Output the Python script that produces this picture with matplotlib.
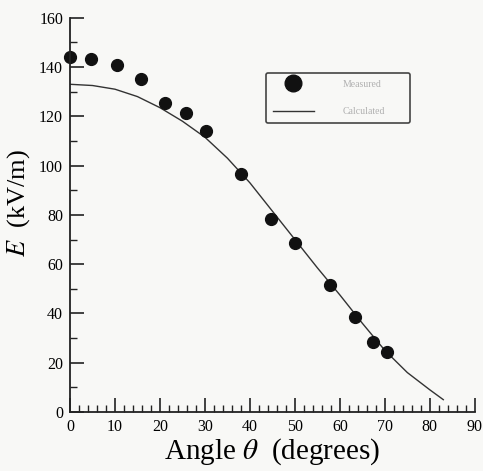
import numpy as np
from matplotlib import pyplot as plt
from matplotlib.lines import Line2D

# measured field (dots)
meas_angle = [0, 4.7, 10.4, 15.7, 21.1, 25.8, 30.2, 38.1, 44.6, 50.0, 57.8, 63.3, 67.4, 70.4]
meas_E = [144, 143.2, 141, 135, 125.5, 121.2, 114, 96.4, 78.3, 68.4, 51.6, 38.7, 28.4, 24.2]

# calculated field (solid curve)
calc_angle = [0, 5, 10, 15, 20, 25, 30, 35, 40, 45, 50, 55, 60, 65, 70, 75, 80, 83]
calc_E = [133, 132.5, 131, 128, 123.5, 118, 111.5, 103, 93, 81.5, 70, 58.5, 47.5, 36, 25, 16, 9, 5]

legend_labels = ["Measured", "Calculated"]

plt.rcParams['font.family'] = ['Liberation Serif', 'DejaVu Serif']
plt.rcParams['mathtext.fontset'] = 'stix'

bg = '#f8f8f6'
fig = plt.figure(figsize=(4.83, 4.71), dpi=100, facecolor=bg)
ax = fig.add_axes([0.145, 0.1253, 0.838, 0.837], facecolor=bg)

ax.plot(calc_angle, calc_E, color='#333333', linewidth=1.0)
ax.plot(meas_angle, meas_E, 'o', color='#111111', markersize=8.5, clip_on=False)

ax.set_xlim(0, 90)
ax.set_ylim(0, 160)
ax.set_xticks(np.arange(0, 91, 10))
ax.set_xticks(np.arange(0, 91, 2), minor=True)
ax.set_yticks(np.arange(0, 161, 20))
ax.set_yticks(np.arange(0, 161, 10), minor=True)

for side in ['top', 'right']:
    ax.spines[side].set_visible(False)
for side in ['left', 'bottom']:
    ax.spines[side].set_linewidth(1.3)
    ax.spines[side].set_color('#222222')

ax.tick_params(which='major', direction='in', length=10, width=1.2, labelsize=11.5, color='#222222')
ax.tick_params(which='minor', direction='in', length=5, width=1.0, color='#222222')
ax.tick_params(axis='x', pad=5)
ax.tick_params(axis='y', pad=5)

ax.set_xlabel(r'Angle $\theta$  (degrees)', fontsize=21, labelpad=1)
ax.set_ylabel(r'$E$  (kV/m)', fontsize=19)
ax.yaxis.set_label_coords(-0.095, 0.53)

handles = [Line2D([], [], marker='o', linestyle='', color='#111111', markersize=12),
           Line2D([], [], color='#333333', linewidth=1.0)]
leg = ax.legend(handles, legend_labels, loc='lower left',
                bbox_to_anchor=(0.484, 0.733, 0.356, 0.13), mode='expand',
                borderaxespad=0, frameon=True, fancybox=True, fontsize=7,
                handlelength=4.2, handletextpad=3.0, labelspacing=1.9, borderpad=0.7,
                facecolor=bg, edgecolor='#444444', framealpha=1)
leg.get_frame().set_linewidth(1.2)
for t in leg.get_texts():
    t.set_color('#b0b0b0')

fig.savefig('out.png', dpi=100, facecolor=bg)
